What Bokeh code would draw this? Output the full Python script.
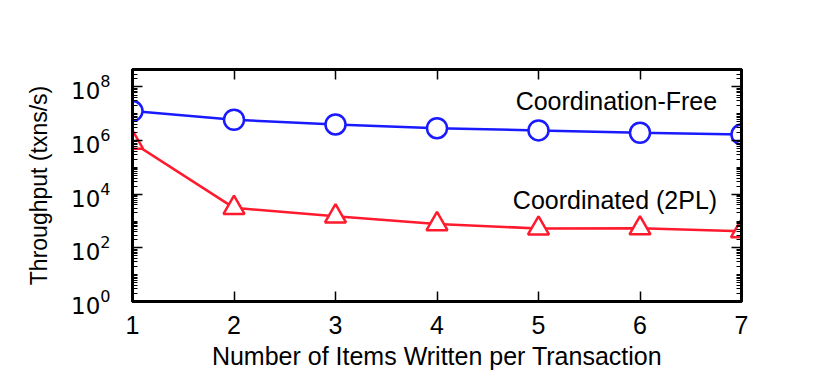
from bokeh.plotting import figure
from bokeh.models import LogAxis, LinearAxis, FixedTicker, Range1d, Label, CustomJSTickFormatter
from bokeh.embed import file_html
from bokeh.resources import INLINE

items = [1, 2, 3, 4, 5, 6, 7]
coord_free = [1.26e7, 6.0e6, 4.0e6, 2.9e6, 2.4e6, 1.95e6, 1.7e6]
coord_2pl = [8.4e5, 3.1e3, 1.5e3, 7.7e2, 5.3e2, 5.4e2, 4.2e2]
y_major = [1, 1e2, 1e4, 1e6, 1e8]
y_minor = [m * 10 ** k for k in range(0, 9) for m in range(1, 10) if not (m == 1 and k % 2 == 0)]

FONT = "Liberation Sans"

p = figure(width=807, height=383, y_axis_type="log", output_backend="svg",
           toolbar_location=None, x_range=Range1d(1, 7), y_range=Range1d(1, 10 ** 8.65),
           min_border_left=132, min_border_right=66, min_border_top=69, min_border_bottom=82)
p.grid.visible = False
p.outline_line_color = "black"
p.outline_line_width = 3
p.background_fill_color = "white"
p.border_fill_color = "white"

xt = FixedTicker(ticks=items, minor_ticks=[])
yt = FixedTicker(ticks=y_major, minor_ticks=y_minor)

def style(ax):
    ax.major_tick_in = 10
    ax.major_tick_out = 0
    ax.minor_tick_in = 5
    ax.minor_tick_out = 0
    ax.major_tick_line_width = 1.5
    ax.minor_tick_line_width = 1.2
    ax.axis_line_color = "black"
    ax.axis_line_width = 3
    ax.major_label_text_font = FONT
    ax.major_label_text_font_size = "25px"
    ax.major_label_text_color = "black"
    ax.axis_label_text_font = FONT
    ax.axis_label_text_font_size = "25px"
    ax.axis_label_text_font_style = "normal"
    ax.axis_label_text_color = "black"

p.xaxis.ticker = xt
p.yaxis.ticker = yt
style(p.xaxis[0])
style(p.yaxis[0])
p.xaxis.axis_label = "Number of Items Written per Transaction"
p.yaxis.axis_label = "Throughput (txns/s)"
p.xaxis.major_label_standoff = 14
p.xaxis.axis_label_standoff = 5
p.yaxis.major_label_text_font = "DejaVu Sans"
p.yaxis.major_label_text_font_size = "23px"
p.yaxis.major_label_standoff = 22
p.yaxis.axis_label_text_font_size = "23px"
p.yaxis.axis_label_standoff = 16

blank = "return ' ';"
top = LinearAxis(ticker=xt, formatter=CustomJSTickFormatter(code=blank))
style(top)
top.major_label_standoff = 0
top.major_label_text_font_size = "2px"
p.add_layout(top, "above")
right = LogAxis(ticker=yt, formatter=CustomJSTickFormatter(code=blank))
style(right)
right.major_label_standoff = 0
right.major_label_text_font_size = "2px"
p.add_layout(right, "right")

blue = "#1a1aff"
red = "#ff1a2e"
p.line(items, coord_free, line_color=blue, line_width=2.5)
p.scatter(items, coord_free, marker="circle", size=20, line_color=blue, line_width=2.5, fill_color="white")
p.line(items, coord_2pl, line_color=red, line_width=2.5)
p.scatter(items, coord_2pl, marker="triangle", size=21, line_color=red, line_width=2.5, fill_color="white")

p.add_layout(Label(x=6.76, y=10 ** 7.48, text="Coordination-Free", text_align="right",
                   text_baseline="middle", text_font=FONT, text_font_size="25px", text_color="black"))
p.add_layout(Label(x=6.76, y=10 ** 3.8, text="Coordinated (2PL)", text_align="right",
                   text_baseline="middle", text_font=FONT, text_font_size="25px", text_color="black"))

open("out.html", "w").write(file_html(p, INLINE))
